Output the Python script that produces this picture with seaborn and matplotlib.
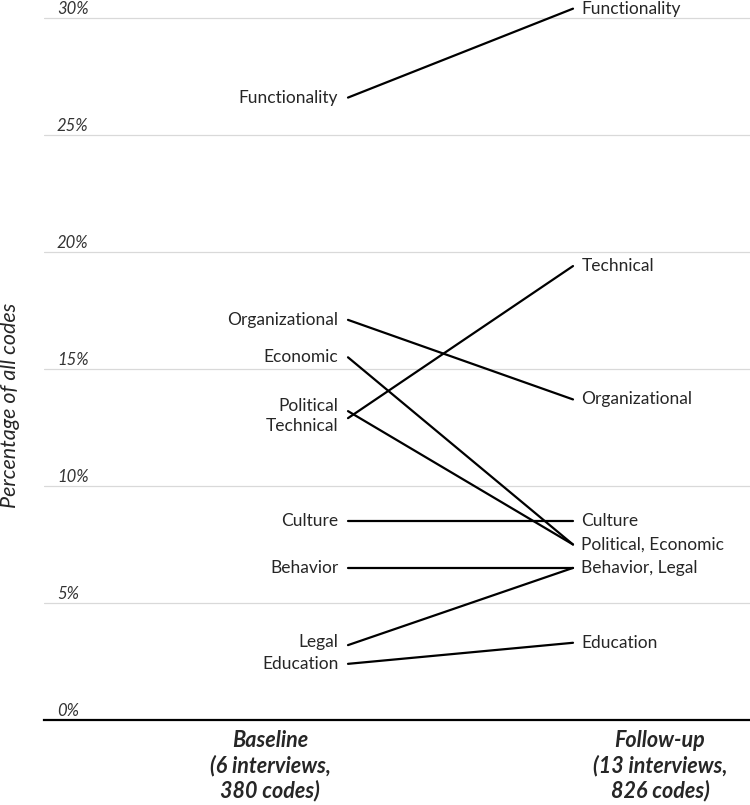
import pandas as pd
import matplotlib.pyplot as plt
import matplotlib.transforms as mtransforms
import seaborn as sns

sns.set_style('white')
plt.rcParams['font.family'] = ['Lato', 'DejaVu Sans']

# 数据（占全部编码的百分比）
codes = ['Functionality', 'Organizational', 'Political', 'Economic', 'Technical',
         'Culture', 'Behavior', 'Legal', 'Education']
baseline = [26.6, 17.1, 13.2, 15.5, 12.9, 8.5, 6.5, 3.2, 2.4]
follow_up = [30.4, 13.7, 7.5, 7.5, 19.4, 8.5, 6.5, 6.5, 3.3]
periods = ['Baseline\n(6 interviews,\n380 codes)', 'Follow-up\n(13 interviews,\n826 codes)']
y_ticks = [0, 5, 10, 15, 20, 25, 30]

df = pd.DataFrame({
    'code': codes * 2,
    'x': [0] * len(codes) + [1] * len(codes),
    'pct': baseline + follow_up,
})

fig = plt.figure(figsize=(7.5, 8.05), dpi=100)
ax = fig.add_axes([44 / 750, 1 - 720 / 805, 706 / 750, 720 / 805])

sns.lineplot(data=df, x='x', y='pct', units='code', estimator=None,
             color='black', linewidth=1.6, ax=ax, legend=False)

# 坐标范围：0 -> 348px, 1 -> 573px
ax.set_xlim(-304 / 225, 402 / 225)
ax.set_ylim(0, 30.77)

# 网格线
for t in y_ticks[1:]:
    ax.axhline(t, color='#d9d9d9', linewidth=0.9, zorder=0)
ax.set_yticks([])
ax.set_ylabel('')
for t in y_ticks:
    off = mtransforms.offset_copy(ax.get_yaxis_transform(), fig=fig, x=0, y=3, units='points')
    ax.text(13 / 706, t, f'{t}%', transform=off,
            ha='left', va='baseline', fontsize=12, style='italic', color='#333333')

# 左侧标签
nudge = {'Political': 4, 'Technical': -6, 'Legal': 2}
for name, v in zip(codes, baseline):
    off = mtransforms.offset_copy(ax.transData, fig=fig, x=-7, y=nudge.get(name, 0), units='points')
    ax.text(0, v, name, transform=off, ha='right', va='center', fontsize=12.5)

# 右侧标签（数值相同的合并）
right = df[df['x'] == 1].groupby('pct', sort=False)['code'].apply(', '.join)
for v, name in right.items():
    off = mtransforms.offset_copy(ax.transData, fig=fig, x=6, y=0, units='points')
    ax.text(1, v, name, transform=off, ha='left', va='center', fontsize=12.5, clip_on=False)

# x 轴类别
ax.set_xticks([-78 / 225, 312 / 225])
ax.set_xticklabels(periods, fontsize=15.5, fontweight='bold', style='italic', linespacing=1.22)
ax.tick_params(axis='x', length=0, pad=7)
ax.set_xlabel('')

for s in ['top', 'right', 'left']:
    ax.spines[s].set_visible(False)
ax.spines['bottom'].set_color('black')
ax.spines['bottom'].set_linewidth(1.6)

fig.text(10 / 750, 1 - 405 / 805, 'Percentage of all codes', rotation=90,
         ha='center', va='center', fontsize=15.5, style='italic')

fig.savefig('out.png', dpi=100)
